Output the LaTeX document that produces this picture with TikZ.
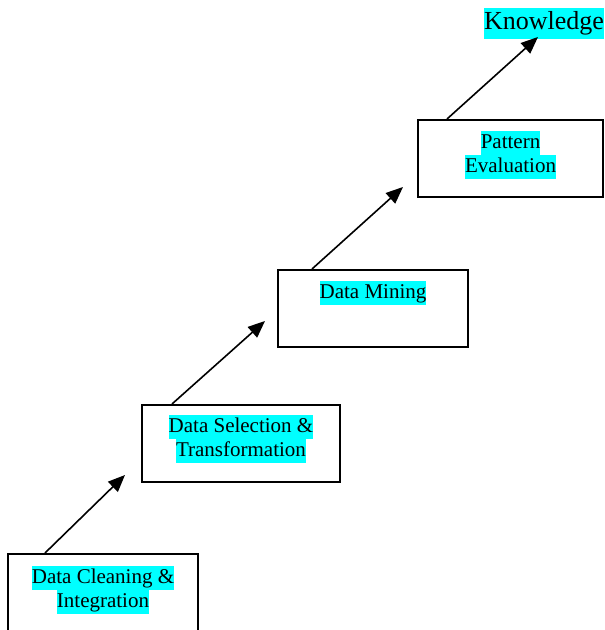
\documentclass[tikz,border=0pt]{standalone}
\usepackage{fontspec}
\setmainfont{Liberation Serif}
\usetikzlibrary{arrows.meta}
\definecolor{hlcyan}{RGB}{0,255,255}
\newcommand{\hlt}[1]{{\setlength{\fboxsep}{0pt}\colorbox{hlcyan}{\strut #1}}}
\begin{document}
\begin{tikzpicture}[x=1pt,y=-1pt,
  box/.style={draw, line width=2pt, minimum height=77pt, inner sep=0pt, anchor=north west},
  lbl/.style={anchor=north, align=center, font=\fontsize{21}{24}\selectfont, inner sep=0pt},
  arr/.style={line width=1.6pt, -{Triangle[length=17pt,width=14pt]}}]
\useasboundingbox (0,0) rectangle (605,630);
\node[box, minimum width=190pt, minimum height=80pt] (b1) at (7,553) {};
\node[box, minimum width=198pt] (b2) at (141,404) {};
\node[box, minimum width=190pt] (b3) at (277,269) {};
\node[box, minimum width=185pt] (b4) at (417,119) {};
\node[lbl] (t1) at ([yshift=-13pt]b1.north) {\hlt{Data Cleaning \&}\\\hlt{Integration}};
\node[lbl] (t2) at ([yshift=-11pt]b2.north) {\hlt{Data Selection \&}\\\hlt{Transformation}};
\node[lbl] (t3) at ([yshift=-12pt]b3.north) {\hlt{Data Mining}};
\node[lbl] (t4) at ([yshift=-12pt]b4.north) {\hlt{Pattern}\\\hlt{Evaluation}};
\node[font=\fontsize{26}{31}\selectfont, inner sep=0pt] (k) at (544,23) {\hlt{Knowledge}};
\coordinate (e1) at (125,475);
\coordinate (e2) at (265,321);
\coordinate (e3) at (403,187);
\coordinate (e4) at (538,37);
\draw[arr] ([xshift=38pt]b1.north west) -- (e1);
\draw[arr] ([xshift=31pt]b2.north west) -- (e2);
\draw[arr] ([xshift=35pt]b3.north west) -- (e3);
\draw[arr] ([xshift=30pt]b4.north west) -- (e4);
\end{tikzpicture}
\end{document}
